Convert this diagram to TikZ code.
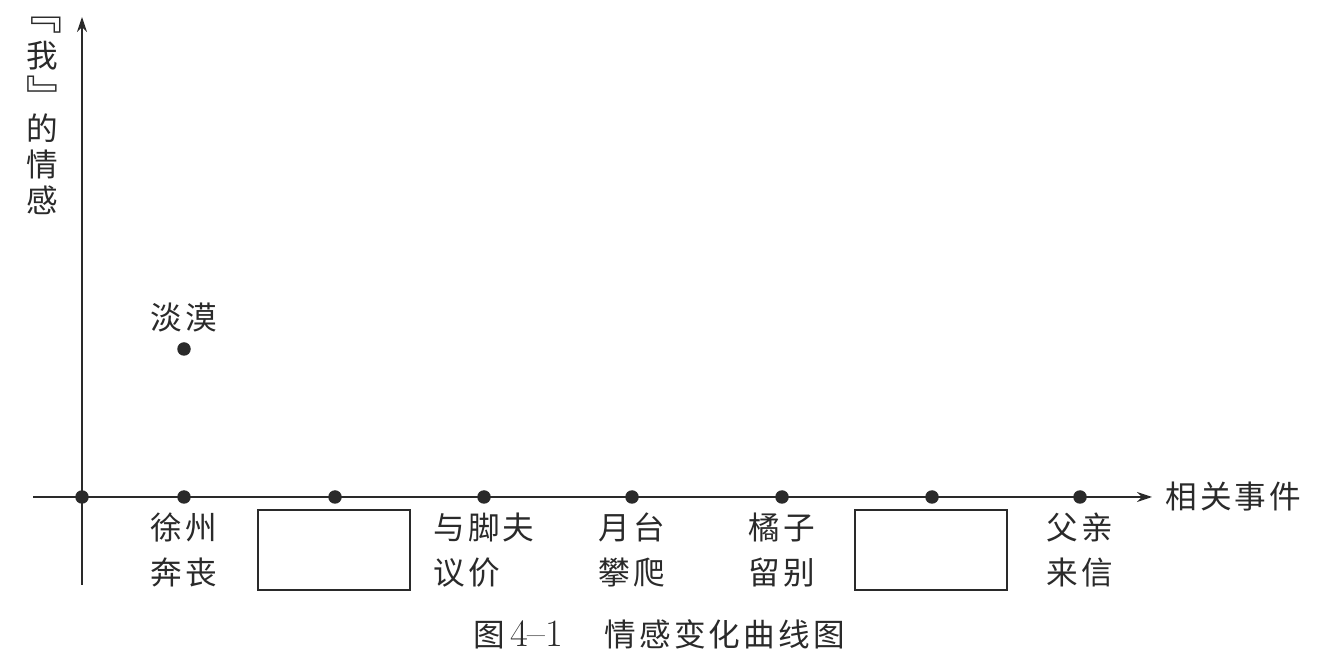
\documentclass[tikz,border=0pt]{standalone}
\usepackage{fontspec}
\newfontfamily\cjk[LetterSpace=10]{Noto Sans CJK SC}
\usetikzlibrary{arrows.meta}
\definecolor{inkgray}{HTML}{2A2A2A}

\begin{document}
\begin{tikzpicture}[
    x=0.02cm, y=-0.02cm,
    >={Stealth[length=0.3cm, width=0.2cm]},
    font=\cjk\fontsize{18}{26}\selectfont,
    text=inkgray,
    axisline/.style={draw=inkgray, line width=1pt},
    evdot/.style={circle, fill=inkgray, inner sep=0pt, minimum size=0.27cm},
    evlabel/.style={align=left, inner sep=0pt},
    blankbox/.style={draw=inkgray, line width=0.8pt, minimum width=3.04cm,
        minimum height=1.6cm, inner sep=0pt},
    vbracket/.style={rotate=-90, scale=1.4, inner sep=0pt},
]
\useasboundingbox (0,0) rectangle (1332,661);

% Axes
\coordinate (ybottom) at (82,585);
\coordinate (ytop) at (82,17);
\coordinate (xleft) at (33,497);
\coordinate (xright) at (1152,497);
\draw[axisline, ->] (ybottom) -- (ytop);
\draw[axisline, ->] (xleft) -- (xright);

% Vertical axis label
\node[vbracket] (ylab0) at (42,22) {\makebox[0.6em][r]{『}};
\node[inner sep=0pt] (ylab1) at (42,56) {我};
\node[vbracket] (ylab2) at (42,97) {』};
\node (ylab3) at (42,128) {的};
\node (ylab4) at (42,164) {情};
\node (ylab5) at (42,200) {感};

% Horizontal axis label
\node[anchor=west, inner sep=0pt] (xlab) at (1165,497) {相关事件};

% Event points on the axis
\node[evdot] (origin) at (82,497) {};
\node[evdot] (ev1) at (184,497) {};
\node[evdot] (ev2) at (335,497) {};
\node[evdot] (ev3) at (484,497) {};
\node[evdot] (ev4) at (632,497) {};
\node[evdot] (ev5) at (782,497) {};
\node[evdot] (ev6) at (932,497) {};
\node[evdot] (ev7) at (1080,497) {};

% Emotion point
\node[evdot] (cold) at (184,349) {};
\node (coldlab) at (184,318) {淡漠};

% Event labels
\node[evlabel] (ev1lab) at (184,550) {徐州\\奔丧};
\node[blankbox] (box1) at (334,550) {};
\node[evlabel] (ev3lab) at (484,550) {与脚夫\\议价};
\node[evlabel] (ev4lab) at (632,550) {月台\\攀爬};
\node[evlabel] (ev5lab) at (782,550) {橘子\\留别};
\node[blankbox] (box2) at (931,550) {};
\node[evlabel] (ev7lab) at (1080,550) {父亲\\来信};

% Caption
\node (caption) at (659,634)
    {图\,{\rmfamily\fontsize{22}{26}\selectfont 4--1}\hspace{1.3em}情感变化曲线图};

\end{tikzpicture}
\end{document}
